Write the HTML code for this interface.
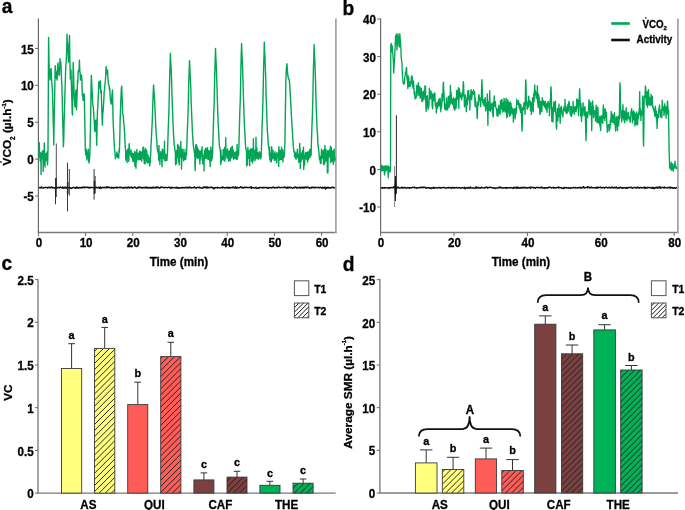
<!DOCTYPE html>
<html><head><meta charset="utf-8"><style>
html,body{margin:0;padding:0;background:#fff;}
body{width:685px;height:510px;overflow:hidden;}
svg{display:block;will-change:transform;font-family:"Liberation Sans",sans-serif;}
text{stroke:#000;stroke-width:0.3px;}
</style></head><body>
<svg width="685" height="510" viewBox="0 0 685 510">
<defs>
<pattern id="hatch" patternUnits="userSpaceOnUse" width="4.243" height="4.243" patternTransform="rotate(45)">
<line x1="2.1" y1="-1" x2="2.1" y2="6" stroke="#1a1a1a" stroke-width="1.05"/></pattern>
<pattern id="hatchL" patternUnits="userSpaceOnUse" width="3.18" height="3.18" patternTransform="rotate(45)">
<rect x="0" y="0" width="3.18" height="3.18" fill="#fff"/><line x1="3.0" y1="-1" x2="3.0" y2="5" stroke="#111" stroke-width="1.05"/></pattern>
</defs>
<text transform="translate(1.8 13.4) scale(0.985 1.06)" text-anchor="start" font-size="19.5" font-weight="bold" >a</text>
<path d="M38.4 18.6V232.5" fill="none" stroke="#6b6b6b" stroke-width="1.2"/>
<path d="M37.8 232.5H336.6" fill="none" stroke="#7a7a7a" stroke-width="1.35"/>
<path d="M335.9 18.6V233.1" fill="none" stroke="#a6a6a6" stroke-width="1.8"/>
<path d="M35 48.4H38.4" stroke="#6b6b6b" stroke-width="1"/>
<text transform="translate(33.8 53.5) scale(0.985 1.06)" text-anchor="end" font-size="11.8" font-weight="bold" >15</text>
<path d="M35 85.3H38.4" stroke="#6b6b6b" stroke-width="1"/>
<text transform="translate(33.8 90.4) scale(0.985 1.06)" text-anchor="end" font-size="11.8" font-weight="bold" >10</text>
<path d="M35 122.2H38.4" stroke="#6b6b6b" stroke-width="1"/>
<text transform="translate(33.8 127.3) scale(0.985 1.06)" text-anchor="end" font-size="11.8" font-weight="bold" >5</text>
<path d="M35 159.1H38.4" stroke="#6b6b6b" stroke-width="1"/>
<text transform="translate(33.8 164.2) scale(0.985 1.06)" text-anchor="end" font-size="11.8" font-weight="bold" >0</text>
<path d="M35 196H38.4" stroke="#6b6b6b" stroke-width="1"/>
<text transform="translate(33.8 201.1) scale(0.985 1.06)" text-anchor="end" font-size="11.8" font-weight="bold" >-5</text>
<path d="M38.4 232.5V236" stroke="#6b6b6b" stroke-width="1"/>
<text transform="translate(38.9 247.2) scale(0.985 1.06)" text-anchor="middle" font-size="11.8" font-weight="bold" >0</text>
<path d="M85.6 232.5V236" stroke="#6b6b6b" stroke-width="1"/>
<text transform="translate(86.1 247.2) scale(0.985 1.06)" text-anchor="middle" font-size="11.8" font-weight="bold" >10</text>
<path d="M132.8 232.5V236" stroke="#6b6b6b" stroke-width="1"/>
<text transform="translate(133.3 247.2) scale(0.985 1.06)" text-anchor="middle" font-size="11.8" font-weight="bold" >20</text>
<path d="M180 232.5V236" stroke="#6b6b6b" stroke-width="1"/>
<text transform="translate(180.5 247.2) scale(0.985 1.06)" text-anchor="middle" font-size="11.8" font-weight="bold" >30</text>
<path d="M227.2 232.5V236" stroke="#6b6b6b" stroke-width="1"/>
<text transform="translate(227.7 247.2) scale(0.985 1.06)" text-anchor="middle" font-size="11.8" font-weight="bold" >40</text>
<path d="M274.4 232.5V236" stroke="#6b6b6b" stroke-width="1"/>
<text transform="translate(274.9 247.2) scale(0.985 1.06)" text-anchor="middle" font-size="11.8" font-weight="bold" >50</text>
<path d="M321.6 232.5V236" stroke="#6b6b6b" stroke-width="1"/>
<text transform="translate(322.1 247.2) scale(0.985 1.06)" text-anchor="middle" font-size="11.8" font-weight="bold" >60</text>
<text transform="translate(178.9 266.3) scale(0.985 1.06)" text-anchor="middle" font-size="11.8" font-weight="bold" >Time (min)</text>
<text transform="translate(11.4,132.4) rotate(-90)" text-anchor="middle" font-size="11.8" font-weight="bold">VCO<tspan font-size="6.3" dy="3.3">2</tspan><tspan dy="-3.3"> (&#181;l.h</tspan><tspan font-size="6" dy="-5.5">-1</tspan><tspan dy="5.5">)</tspan></text>
<circle cx="0.9" cy="161.9" r="0.85" fill="#111"/>
<polyline fill="none" stroke="#00a655" stroke-width="1.4" stroke-linejoin="round" points="38.9,156.6 39.1,157.2 39.3,142.6 39.4,150.3 39.6,153.1 39.8,152.4 40,154.4 40.2,161.1 40.3,156.4 40.5,156.2 40.7,152.9 40.9,157.1 41.1,174.5 41.2,154.1 41.4,154.8 41.6,157.4 41.8,153.1 42,157.7 42.1,158.7 42.3,151.4 42.5,157.8 42.7,154.6 42.9,153.3 43,150.4 43.2,171.5 43.4,154.3 43.6,154.5 43.8,162.5 43.9,156.1 44.1,164.3 44.3,143 44.5,154.3 44.7,159.1 44.8,160.7 45,167 45.2,156 45.4,156.1 45.6,161.3 45.7,154.8 45.9,153.5 46.1,160.2 46.3,155.1 46.5,157.4 46.6,153.2 46.8,156.8 47,157 47.2,152 47.4,158.5 47.5,164.7 47.7,161.1 47.9,153.2 48,150 48.3,98.3 48.6,37.5 48.9,57.2 49.2,71 49.6,69.4 50,80 50.4,75.4 50.7,71 51.1,68.4 51.5,78.3 52,85 52.5,93 52.8,102.8 53.1,118.1 53.5,129.5 53.8,145 54.1,122.3 54.5,106.5 54.9,80.9 55.2,65.7 55.6,72.5 56,78 56.5,72 57,80 57.3,76.3 57.7,64.6 58,63 58.3,70 58.7,72 59,75 59.3,75.4 59.7,68.6 60,58.6 60.4,65.1 60.7,61.6 61.1,66.7 61.5,78 62,90 62.4,105.5 62.7,121.9 63,129.7 63.4,146.7 63.8,138.7 64.1,121.8 64.5,110 64.9,94.4 65.2,85.1 65.6,71 65.9,65.3 66.3,60 66.7,49.6 67,34.1 67.3,42 67.7,44.3 68,52 68.5,62 69,48 69.5,35.5 69.9,60 70.3,79 70.7,78.3 71,70 71.5,90 71.8,98 72.2,112.8 72.5,115 72.8,88.8 73.2,62.4 73.6,74 74,90 74.3,99 74.7,102.1 75,107 75.3,100.1 75.7,92.3 76,90 76.5,109.6 76.8,102.6 77.2,91.7 77.5,80 77.8,82.9 78.2,71 78.5,72 78.8,69.7 79.1,69.9 79.4,60.2 79.8,70.3 80.1,72.8 80.5,80 80.8,75.3 81.2,76.6 81.5,75 81.8,78.3 82.1,88.8 82.4,95.9 82.7,93 83.1,100.2 83.5,100 83.8,97.6 84.2,94 84.8,120 85.3,150 85.8,155 86,150 86.3,149.3 86.7,157.5 87,160 87.3,154.5 87.7,152.2 88,152 88.3,149.2 88.7,160.4 89,163 89.3,160.6 89.7,157.3 90,150 90.3,136.3 90.7,113.4 91,93.9 91.3,75.4 91.6,80.3 91.9,87.7 92.2,92.3 92.5,100 92.8,105.2 93.2,106.5 93.5,110 93.8,115.7 94.2,120 94.5,126.5 94.8,131 95.1,131.5 95.4,125.7 95.7,120.3 96,120 96.3,127.5 96.7,145.3 97.1,126.2 97.5,110 97.8,107.2 98.2,97.6 98.5,92.2 98.8,81.8 99.2,82.4 99.5,88 99.8,85.6 100.2,80.6 100.5,82.4 100.8,93 101.2,90.1 101.5,100 101.8,109.5 102.1,118 102.4,125.3 102.8,112.9 103.1,111.4 103.5,105 103.8,100.6 104.2,91.2 104.5,90 104.8,86.9 105.2,81.8 105.5,80 106.1,66.5 106.4,71.7 106.8,72 107.2,74 107.5,70 107.8,75.7 108.2,80.7 108.5,85 108.8,85.2 109.2,85.2 109.5,90 109.8,88.5 110.2,97.2 110.5,100 110.9,102.7 111.3,104 111.7,98.9 112,95 112.5,90 113,117 113.3,125 113.7,133.1 114,140 114.4,148 114.8,151 115.1,153.8 115.4,158.8 115.7,155 116,155 116.3,156.3 116.7,154 117,152 117.3,157.3 117.7,154.4 118.1,157.2 118.4,158 118.7,158.1 119.1,148.9 119.4,152 119.8,137.7 120.1,121.9 120.5,110 120.9,99.4 121.3,89 121.7,86.3 122,95 122.3,100.8 122.7,114 123,115 123.3,115.6 123.7,123.1 124,125 124.3,128.8 124.6,132.2 124.9,140 125.3,146.9 125.7,152 125.7,159.3 125.9,154.5 126.1,160.4 126.2,156.5 126.4,153.9 126.6,151.1 126.8,153.3 127,156.2 127.1,162.5 127.3,156.3 127.5,152.6 127.7,149.2 127.9,156.9 128,157.7 128.2,156.6 128.4,154.7 128.6,148.4 128.8,161.4 128.9,157.6 129.1,144.4 129.3,143.6 129.5,149.6 129.7,153.7 129.8,154.2 130,151.9 130.2,154.6 130.4,152.4 130.6,151.9 130.7,154.8 130.9,155.6 131.1,149.9 131.3,156.9 131.5,157.2 131.6,156 131.8,157.1 132,155.4 132.2,153 132.4,154.7 132.5,158.1 132.7,160.2 132.9,156.8 133.1,161.6 133.3,157.9 133.4,153.7 133.6,157.6 133.8,157.1 134,161 134.2,158 134.3,155 134.5,159.6 134.7,151.5 134.9,166.2 135.1,155.3 135.2,155.7 135.4,153.1 135.6,156.1 135.8,160.1 136,168.2 136.1,156.5 136.3,152 136.5,161.4 136.7,156.8 136.9,149.5 137,154 137.2,154 137.4,155.2 137.6,157.9 137.8,156.4 137.9,157.2 138.1,159.8 138.3,153.1 138.5,158.3 138.7,154.1 138.8,158.3 139,153.2 139.2,158.9 139.4,159.8 139.6,155.7 139.7,151.1 139.9,151.5 140.1,156.9 140.3,159.6 140.5,158.4 140.6,151.8 140.8,156 141,152.8 141.2,153.1 141.4,152.8 141.5,157.1 141.7,161.3 141.9,154.7 142.1,155.1 142.3,156.9 142.4,150.9 142.6,151.6 142.8,154.9 143,147.5 143.2,150.5 143.3,158 143.5,158.9 143.7,147.3 143.9,157.3 144.1,150.3 144.2,163.5 144.4,161.3 144.6,153.6 144.8,158 145,162.3 145.1,163.7 145.3,153.2 145.5,148.7 145.7,155.4 145.9,155 146,160.3 146.2,154.9 146.4,150.3 146.6,152.9 146.8,150.9 146.9,162.2 147.1,154.6 147.3,154.6 147.5,154.5 147.7,157.9 147.8,163 148,155.2 148.2,160 148.4,157.6 148.6,156.9 148.7,162.2 148.9,160.3 149.1,157.6 149.3,158.9 149.5,162.6 149.6,159.9 149.8,166 150,158.2 150.2,160.9 150.4,162.5 150.5,157.4 150.6,156 151,145.8 151.4,138.2 151.8,130.1 152.3,120.5 152.6,111.1 152.9,100.6 153.2,92.6 153.6,85 153.9,89.7 154.3,95.8 154.6,100.6 154.9,107.8 155.2,113.8 155.5,120.5 155.8,126.3 156.1,131.5 156.4,136.8 156.7,139.2 157.1,146.2 157.4,148.9 157.8,152 158.2,151.6 158.6,154.6 158.6,156.5 158.8,160.3 159,145.5 159.1,155.1 159.3,152.7 159.5,161.5 159.7,153.3 159.9,164.6 160,156.4 160.2,157.6 160.4,157.9 160.6,156.9 160.8,151.6 160.9,158 161.1,158.1 161.3,154.2 161.5,156.4 161.7,162 161.8,159.5 162,166.8 162.2,156.8 162.4,149.1 162.6,157.7 162.7,156.7 162.9,149.4 163.1,154.7 163.3,158.2 163.5,153.2 163.6,155.3 163.8,157.3 164,154.6 164.2,156 164.4,160.3 164.5,141.2 164.7,155.4 164.9,158 165.1,157 165.3,161.1 165.4,155.5 165.6,159.5 165.8,154.2 166,158 166.2,155.5 166.3,157.9 166.5,159.8 166.7,155.9 166.9,160.5 167.1,158.3 167.2,155.4 167.4,155 167.8,142 168.2,129.6 168.7,117.5 169.1,104.2 169.4,90.3 169.7,75.7 170.1,63.3 170.4,53.3 170.7,61.2 171.1,68.4 171.4,75.7 171.7,84.2 172,95.4 172.3,104.2 172.6,111.7 172.9,119.4 173.2,127.5 173.5,134.1 173.9,140.4 174.2,144.8 174.6,146.9 175,150.7 175.4,153 175.4,158.9 175.6,164.8 175.8,151.9 175.9,153.4 176.1,151.5 176.3,158.1 176.5,163.6 176.7,156.5 176.8,150.2 177,150.9 177.2,154.1 177.4,155.6 177.6,157.3 177.7,144.4 177.9,154.2 178.1,149.3 178.3,151 178.5,155 178.6,162 178.8,145.7 179,159 179.2,164.8 179.4,156.5 179.5,152.8 179.7,157.6 179.9,156.4 180.1,156.9 180.3,153.5 180.4,147.5 180.6,155.6 180.8,141.5 181,154.2 181.2,154.3 181.3,158.4 181.5,169 181.7,160.3 181.9,149.2 182.1,154.1 182.2,149.5 182.4,154 182.6,152.9 182.8,157.6 183,157.9 183.1,156.6 183.3,154.7 183.5,159.4 183.7,160.9 183.9,149.2 184,155.1 184.2,152.3 184.4,159.6 184.6,156.3 184.8,155.2 184.9,154.7 185.1,153.2 185.3,157.3 185.5,156.2 185.7,159.4 185.8,157.5 186,154.3 186.2,150.5 186.4,148.6 186.5,155 186.9,143.2 187.3,131.4 187.8,119.8 188.2,107.8 188.5,93.9 188.8,81.4 189.2,70.1 189.5,60.7 189.8,66.8 190.2,75.7 190.5,81.4 190.8,88 191.1,99.9 191.4,107.8 191.7,115 192,121.6 192.3,129.5 192.6,135.1 193,140.1 193.3,145.6 193.7,147.1 194.1,150.4 194.5,153.1 194.5,150.6 194.7,156.5 194.9,156.1 195,167 195.2,170.6 195.4,154.2 195.6,149.4 195.8,144.9 195.9,147.9 196.1,151.4 196.3,152.8 196.5,144.8 196.7,151.5 196.8,157.1 197,155.2 197.2,158.6 197.4,147.1 197.6,150 197.7,154.2 197.9,157 198.1,154.2 198.3,154.9 198.5,149.6 198.6,156.5 198.8,155.7 199,158.6 199.2,150.9 199.4,152.8 199.5,157.5 199.7,160.2 199.9,164.1 200.1,157.8 200.3,158.4 200.4,158.9 200.6,155.3 200.8,150.9 201,155.6 201.2,153.7 201.3,151.9 201.5,151 201.7,149.4 201.9,153 202.1,146.8 202.2,160.2 202.4,154.2 202.6,155.9 202.8,163.9 203,158.1 203.1,156.6 203.3,157.3 203.5,157.1 203.7,156.1 203.9,157.6 204,171 204.2,154 204.4,153.3 204.6,152.6 204.8,150 204.9,158.6 205.1,150 205.3,153 205.5,153.6 205.7,148.1 205.8,157.9 206,150.4 206.2,152.1 206.4,158.6 206.6,155.7 206.7,149 206.9,151 207.1,156.5 207.3,151 207.5,147.7 207.6,155.6 207.8,152 208,159.4 208.2,156.2 208.4,159.2 208.5,154.5 208.7,150.7 208.9,153.9 209.1,156.7 209.3,151 209.4,155.9 209.6,159.4 209.8,161.3 210,161.6 210.2,166.6 210.3,157.6 210.5,152 210.7,150.9 210.9,147.1 211.1,159.6 211.2,158.3 211.4,153.7 211.6,160.7 211.8,158.6 212,154.9 212.1,149.9 212.3,158.3 212.5,150.1 212.5,155 212.9,141.8 213.3,128.4 213.8,113.6 214.2,101.8 214.5,87 214.8,71.9 215.2,59.1 215.5,48.5 215.8,56.5 216.2,63.4 216.5,71.9 216.8,81.4 217.1,90.3 217.4,101.8 217.7,111.4 218,117.9 218.3,126.2 218.6,130.5 219,138.5 219.3,144.3 219.7,147.5 220.1,149.1 220.5,152.9 220.5,153 220.7,164.4 220.9,159.9 221,150.2 221.2,157.7 221.4,161.9 221.6,157.7 221.8,159.9 221.9,157.3 222.1,158.9 222.3,159.4 222.5,155.9 222.7,156.1 222.8,157.7 223,159.4 223.2,149.5 223.4,160 223.6,154.7 223.7,158.2 223.9,150.9 224.1,156.9 224.3,153.5 224.5,154.3 224.6,147.5 224.8,161.3 225,159.3 225.2,154.2 225.4,153.6 225.5,153.9 225.7,137.8 225.9,151.2 226.1,153 226.3,155.7 226.4,151.3 226.6,152.5 226.8,150.1 227,158.3 227.2,154.9 227.3,151.9 227.5,151.5 227.7,149 227.9,155.9 228.1,155.2 228.2,152.6 228.4,151.9 228.6,161.3 228.8,152.5 229,159.8 229.1,151.6 229.3,155.4 229.5,153.4 229.7,154.9 229.9,150.4 230,154.1 230.2,160.7 230.4,151 230.6,150.8 230.8,147.8 230.9,150.6 231.1,148.1 231.3,157.4 231.5,148.5 231.7,150.9 231.8,158 232,155.5 232.2,146.1 232.4,149 232.6,152.9 232.7,155 232.9,153.2 233.1,150 233.3,150.8 233.5,154.9 233.6,159.3 233.8,155.7 234,153.8 234.2,156.6 234.4,157.5 234.5,152.7 234.7,156.7 234.9,153.4 235.1,158.5 235.3,152.6 235.4,155.5 235.6,157.2 235.8,151.9 236,158.1 236.2,155.7 236.3,156.3 236.5,159.4 236.7,158.1 236.9,152.9 237.1,144.4 237.2,159.2 237.4,153 237.6,158.2 237.8,154.5 238,152.3 238.1,153.7 238.3,150.4 238.5,154.8 238.6,155 239,141.8 239.4,127.1 239.8,112.4 240.3,99.2 240.6,85.7 240.9,68 241.2,55.1 241.6,43.5 241.9,52.9 242.3,60.4 242.6,68 242.9,78 243.2,89.1 243.5,99.2 243.8,108.5 244.1,116.2 244.4,124.9 244.7,129.9 245.1,137 245.4,143.8 245.8,148.3 246.2,149.4 246.6,152.8 246.6,165.9 246.8,153.3 247,152.9 247.1,163 247.3,163.8 247.5,164.9 247.7,157.8 247.9,147.4 248,158.1 248.2,156.4 248.4,158.4 248.6,151.6 248.8,150.6 248.9,152 249.1,155.5 249.3,152.3 249.5,153 249.7,165.7 249.8,158.6 250,153.4 250.2,150.6 250.4,148.9 250.6,155.1 250.7,153.6 250.9,156.9 251.1,150.9 251.3,149.5 251.5,161.2 251.6,153.5 251.8,157.4 252,156.6 252.2,148.6 252.4,155.3 252.5,157.7 252.7,162.9 252.9,157.3 253.1,160.1 253.3,158.4 253.4,138.8 253.6,152.5 253.8,153.6 254,152.5 254.2,154.5 254.3,156.3 254.5,150.1 254.7,155.6 254.9,160.7 255.1,159.8 255.2,155 255.4,158.9 255.6,153.9 255.8,154 256,137.1 256.1,150.9 256.3,154.1 256.5,157.4 256.7,157.6 256.9,147.9 257,158.7 257.2,155.9 257.4,154.7 257.6,157.9 257.8,152.7 257.9,153.9 258.1,155.9 258.3,155.2 258.5,159.3 258.7,152.9 258.8,155 259,153.6 259.2,153.2 259.4,151.7 259.6,152.4 259.7,152.4 259.9,157.6 260.1,153.4 260.3,157.8 260.5,158.1 260.6,154.2 260.8,158.9 261,156.3 261.2,156.6 261.3,154 261.7,139.9 262.1,126.1 262.6,112.8 263,98.2 263.3,83.6 263.6,66.9 264,55.2 264.3,42.3 264.6,51.2 265,57.5 265.3,66.9 265.8,81.2 266.2,98.2 266.5,106.1 266.8,115.8 267.1,123.8 267.4,131.7 267.8,135.3 268.1,142.8 268.5,146.1 268.9,147.9 269.3,151.8 269.3,155.2 269.5,147.2 269.7,155.6 269.8,159.8 270,156.2 270.2,153 270.4,158.1 270.6,161.4 270.7,154.6 270.9,154 271.1,158.5 271.3,161.9 271.5,149 271.6,146.6 271.8,148.3 272,157 272.2,154.9 272.4,158.7 272.5,153 272.7,154.6 272.9,150.3 273.1,154.9 273.3,157.7 273.4,153.4 273.6,155.9 273.8,153.6 274,154.4 274.2,160.5 274.3,157.5 274.5,156.6 274.7,156.6 274.9,151.8 275.1,154.1 275.2,153.2 275.4,154.1 275.6,160 275.8,154.7 276,158.1 276.1,159 276.3,156.4 276.5,157.7 276.7,162.8 276.9,152.5 277,154.1 277.2,155.2 277.4,155.7 277.6,154.2 277.8,157.3 277.9,154.5 278.1,154.2 278.3,153.8 278.5,155.8 278.7,166.4 278.8,146.8 279,147.8 279.2,153.2 279.4,156.6 279.6,150.3 279.7,160.1 279.9,153.8 280.1,155.7 280.3,156.2 280.5,153.6 280.6,150.6 280.8,153.8 281,159.6 281.2,158.6 281.4,154.7 281.5,147.2 281.7,157.4 281.9,159.5 282.1,156.4 282.3,154.4 282.4,156.4 282.6,153.6 282.8,149.7 283,161.9 283.2,153.7 283.3,155.2 283.5,154.9 283.7,152.9 283.9,152.7 284.1,157.1 284.2,156.6 284.3,155.5 284.9,143 285.4,110 285.9,80 286.4,68 286.9,63.8 287.4,70 287.9,76 288.2,77.1 288.6,79 289,79.2 289.4,81 289.8,86.3 290.1,92 290.5,98.1 290.8,104 291.2,111.5 291.7,121 292,125.8 292.4,130.9 292.7,137.4 293,141.2 293.4,146.7 293.7,150 294.1,152 294.5,153 294.5,156.6 294.7,153.4 294.9,152.6 295,152 295.2,152.9 295.4,157.6 295.6,158.3 295.8,158.5 295.9,154.7 296.1,159.3 296.3,153.6 296.5,157.8 296.7,152.8 296.8,154.4 297,155.3 297.2,152.1 297.4,149.3 297.6,156.8 297.7,153.5 297.9,157.8 298.1,154.1 298.3,157 298.5,157.3 298.6,156.7 298.8,162.4 299,155.2 299.2,159.1 299.4,153.8 299.5,151.7 299.7,143.5 299.9,149.7 300.1,149 300.3,168.5 300.4,157.6 300.6,157.9 300.8,161.2 301,159 301.2,161.2 301.3,154.6 301.5,157.9 301.7,152.9 301.9,159.3 302.1,156.4 302.2,157.1 302.4,158.5 302.6,150.8 302.8,152.3 303,156.9 303.1,156.2 303.3,155.7 303.5,147.2 303.7,169.4 303.9,165 304,159.3 304.2,160.7 304.4,158.4 304.6,165.1 304.8,156.8 304.9,155.5 305.1,156.9 305.3,153.2 305.5,154.8 305.7,152.3 305.8,158 306,152.4 306.2,159 306.4,155.3 306.6,153.4 306.7,152.9 306.9,158.1 307.1,159.7 307.3,152.7 307.5,157.4 307.6,162.1 307.8,152 308,154.8 308.2,157.7 308.4,159.8 308.5,158.8 308.7,155.6 308.9,157.8 309.1,151.2 309.3,154.3 309.4,152.4 309.6,153.1 309.8,149.5 310,157.6 310.2,149.1 310.3,149.5 310.5,154.5 310.7,149.1 310.9,149.8 311.1,154.6 311.1,155.5 311.5,140.5 311.9,127.8 312.4,114.4 312.8,100.2 313.1,85.7 313.4,69.2 313.8,57.8 314.1,44.8 314.4,53.5 314.8,60.3 315.1,69.2 315.6,84 316,100.2 316.3,108.9 316.6,117.2 316.9,125.6 317.2,131.1 317.6,135.8 317.9,144.4 318.3,146.9 318.7,150.5 319.1,153.3 319.1,155.1 319.3,156.6 319.5,159.9 319.6,158.2 319.8,157.2 320,157.8 320.2,158.5 320.4,163.5 320.5,159.5 320.7,156.3 320.9,157.4 321.1,163.3 321.3,155.1 321.4,151.5 321.6,149.1 321.8,156.9 322,157.8 322.2,158.2 322.3,152.3 322.5,157.4 322.7,153.5 322.9,154.7 323.1,150.8 323.2,153.9 323.4,160.2 323.6,164.7 323.8,154.8 324,160.6 324.1,155.8 324.3,149.1 324.5,160.7 324.7,163.8 324.9,145.5 325,154.5 325.2,151.1 325.4,152.5 325.6,156.4 325.8,149.2 325.9,161 326.1,150.8 326.3,159.2 326.5,160.7 326.7,158.8 326.8,157.2 327,155.9 327.2,154.4 327.4,172.8 327.6,158.1 327.7,150.6 327.9,173 328.1,158 328.3,156.6 328.5,156 328.6,157.8 328.8,156 329,153.8 329.2,150.1 329.4,153.1 329.5,152.8 329.7,153.4 329.9,153.5 330.1,149.5 330.3,157.4 330.4,146.3 330.6,147.2 330.8,162.5 331,159.4 331.2,147.2 331.3,148 331.5,161.3 331.7,159.2 331.9,158.3 332.1,154.8 332.2,160.5 332.4,161 332.6,151 332.8,152.4 333,160.7 333.1,158.1 333.3,164.2 333.5,151.1 333.7,162.4 333.9,150 334,159.2 334.2,149 334.4,160.3 334.6,158 334.8,160.6 334.9,157.5 335.1,159.9" />
<polyline fill="none" stroke="#111" stroke-width="1.45" stroke-linejoin="round" points="38.9,187.8 39.4,187.5 39.9,187.9 40.4,188 40.9,187.6 41.4,186.8 41.9,187.8 42.4,187.9 42.9,188.1 43.4,188 43.9,187.5 44.4,187.6 44.9,187.7 45.4,187.3 45.9,187.6 46.4,187.6 46.9,187.5 47.4,187.9 47.9,187.4 48.4,187.2 48.9,187.8 49.4,187.3 49.9,187.6 50.4,187.9 50.9,187.2 51.4,187.6 51.9,187 52.4,187.9 52.9,187.6 53.4,187.7 53.9,187.6 54.4,188.1 54.9,187.9 55.4,187.7 55.9,188.3 56.4,187 56.9,188.2 57.4,187.7 57.9,187.5 58.4,187.6 58.9,187.4 59.4,188 59.9,187.2 60.4,186.9 60.9,187.5 61.4,187.7 61.9,187.8 62.4,187.1 62.9,188.2 63.4,187.4 63.9,188.3 64.4,187.5 64.9,187.6 65.4,187 65.9,188.3 66.4,188 66.9,187.5 67.4,187.8 67.9,187.5 68.4,187.4 68.9,187.8 69.4,187.7 69.9,188.1 70.4,187.7 70.9,188.3 71.4,188.4 71.9,187.9 72.4,188 72.9,187.6 73.4,187.2 73.9,187.6 74.4,187.8 74.9,187.6 75.4,188.2 75.9,187.7 76.4,187.1 76.9,188.2 77.4,187.3 77.9,188.1 78.4,188 78.9,187.5 79.4,187.9 79.9,187.6 80.4,187.4 80.9,187.9 81.4,187.4 81.9,187.5 82.4,187.9 82.9,187.1 83.4,187.3 83.9,187 84.4,187.8 84.9,187.2 85.4,187.6 85.9,187.3 86.4,187.3 86.9,187.2 87.4,187.6 87.9,187.2 88.4,187.9 88.9,187.8 89.4,187.2 89.9,187.9 90.4,187.5 90.9,187.5 91.4,187.4 91.9,187.6 92.4,187.6 92.9,187.4 93.4,187.6 93.9,188 94.4,187.4 94.9,187.5 95.4,187.9 95.9,187.1 96.4,187.6 96.9,187.5 97.4,188 97.9,187.7 98.4,187.2 98.9,187.7 99.4,188.3 99.9,186.9 100.4,187.2 100.9,188.5 101.4,187.9 101.9,187.8 102.4,187.2 102.9,187.6 103.4,187.5 103.9,187.8 104.4,187.3 104.9,187.6 105.4,187.5 105.9,187.9 106.4,187.5 106.9,186.7 107.4,187.4 107.9,187.3 108.4,187.8 108.9,187.1 109.4,187.4 109.9,187.7 110.4,187.6 110.9,187.7 111.4,188.1 111.9,187.2 112.4,187.7 112.9,187.7 113.4,188.3 113.9,187.6 114.4,187.7 114.9,187.4 115.4,187.3 115.9,187.6 116.4,188 116.9,187.3 117.4,187.2 117.9,187.8 118.4,187.7 118.9,187.5 119.4,187.3 119.9,187.4 120.4,187.7 120.9,187.2 121.4,187.5 121.9,187.6 122.4,187.9 122.9,187.4 123.4,187.7 123.9,188.3 124.4,187.5 124.9,187.6 125.4,187.2 125.9,187.4 126.4,188.1 126.9,187.7 127.4,187.2 127.9,187.9 128.4,187.2 128.9,187.1 129.4,187.9 129.9,187.3 130.4,187.7 130.9,187.5 131.4,187.7 131.9,187.1 132.4,188.2 132.9,188 133.4,187.7 133.9,187.6 134.4,187.2 134.9,186.9 135.4,187.6 135.9,187.8 136.4,188.3 136.9,188.2 137.4,187.7 137.9,187.4 138.4,187.8 138.9,187 139.4,187.8 139.9,187.2 140.4,187.2 140.9,187.2 141.4,188 141.9,187.7 142.4,188.1 142.9,187.6 143.4,187.7 143.9,187.2 144.4,187.6 144.9,187.9 145.4,187.2 145.9,187.4 146.4,187.9 146.9,187.1 147.4,187.4 147.9,188 148.4,188.1 148.9,187.5 149.4,187.9 149.9,188 150.4,187.3 150.9,187.7 151.4,188.1 151.9,187.4 152.4,187.9 152.9,187.2 153.4,187.8 153.9,187.3 154.4,187.9 154.9,187.5 155.4,187.5 155.9,187.9 156.4,186.8 156.9,187.9 157.4,187.6 157.9,187 158.4,187.5 158.9,187.7 159.4,187.6 159.9,188.2 160.4,187.6 160.9,186.9 161.4,187.3 161.9,187.4 162.4,187.2 162.9,187.2 163.4,187.7 163.9,187.8 164.4,187.7 164.9,187.3 165.4,187.6 165.9,187.4 166.4,187.6 166.9,187.6 167.4,187.8 167.9,187.6 168.4,187.5 168.9,187.1 169.4,187.6 169.9,187.7 170.4,187.6 170.9,188.5 171.4,187.3 171.9,187.3 172.4,187.8 172.9,187.7 173.4,187.7 173.9,187.8 174.4,187.6 174.9,187.5 175.4,187.9 175.9,187.8 176.4,187.2 176.9,188 177.4,187.4 177.9,188.2 178.4,187.8 178.9,188.3 179.4,187.7 179.9,187.8 180.4,187.9 180.9,188 181.4,187.7 181.9,187.8 182.4,187.3 182.9,188 183.4,187.7 183.9,187.7 184.4,187.9 184.9,187.5 185.4,187.7 185.9,187.3 186.4,187.8 186.9,187.7 187.4,187.2 187.9,187.9 188.4,187.6 188.9,187.8 189.4,186.9 189.9,187.7 190.4,187.7 190.9,187.4 191.4,187.9 191.9,187.8 192.4,187.8 192.9,187.8 193.4,187.4 193.9,187.6 194.4,186.9 194.9,187.7 195.4,187.8 195.9,188.2 196.4,188.2 196.9,187.4 197.4,187.3 197.9,187.4 198.4,187.6 198.9,187.7 199.4,187.1 199.9,187.7 200.4,187.5 200.9,187.8 201.4,188.3 201.9,188.2 202.4,188 202.9,187.6 203.4,187.1 203.9,187.7 204.4,187.1 204.9,187.5 205.4,187.7 205.9,186.8 206.4,187.1 206.9,188.1 207.4,187 207.9,187.2 208.4,187.9 208.9,187.7 209.4,187.6 209.9,187.2 210.4,187.5 210.9,187.4 211.4,187.1 211.9,187.6 212.4,188.1 212.9,187.6 213.4,188 213.9,188.9 214.4,187.9 214.9,187.7 215.4,187.7 215.9,187.6 216.4,187.7 216.9,187.7 217.4,187.2 217.9,187.7 218.4,187.6 218.9,187.8 219.4,187.9 219.9,187.9 220.4,187.8 220.9,187.7 221.4,187.2 221.9,187.6 222.4,188.1 222.9,186.9 223.4,187.5 223.9,187.6 224.4,187.9 224.9,187.7 225.4,187.9 225.9,187.4 226.4,187.8 226.9,187.2 227.4,187.6 227.9,188.1 228.4,188.2 228.9,187.2 229.4,188 229.9,187.4 230.4,187.6 230.9,187.9 231.4,187.6 231.9,187.5 232.4,187.1 232.9,187.7 233.4,187.1 233.9,187.6 234.4,187.9 234.9,188.2 235.4,186.8 235.9,187.9 236.4,188.2 236.9,187.4 237.4,187.3 237.9,188 238.4,187.7 238.9,187.8 239.4,187.8 239.9,187.8 240.4,186.8 240.9,187.1 241.4,187.4 241.9,187.2 242.4,188 242.9,187.6 243.4,188.1 243.9,187.5 244.4,187.3 244.9,187.3 245.4,187.8 245.9,187.4 246.4,187.2 246.9,187.3 247.4,187.7 247.9,187.6 248.4,187.5 248.9,187.6 249.4,187.5 249.9,187.5 250.4,187.4 250.9,186.7 251.4,188.4 251.9,187.4 252.4,187.4 252.9,187.6 253.4,187.7 253.9,187.8 254.4,188 254.9,187.9 255.4,187.9 255.9,187.2 256.4,188 256.9,188.4 257.4,188 257.9,188.1 258.4,187.8 258.9,188.3 259.4,187.5 259.9,187.5 260.4,187.7 260.9,187.4 261.4,187.5 261.9,187.6 262.4,188.1 262.9,187.9 263.4,187.3 263.9,187.8 264.4,187.7 264.9,187.5 265.4,187.5 265.9,187.3 266.4,187.6 266.9,188.1 267.4,187.7 267.9,188.3 268.4,188.3 268.9,187.5 269.4,187.6 269.9,187.5 270.4,187.9 270.9,187.7 271.4,187.9 271.9,187.4 272.4,187.3 272.9,187.7 273.4,187.1 273.9,187.5 274.4,187.4 274.9,187.9 275.4,187.7 275.9,187.9 276.4,187.6 276.9,187.2 277.4,187.9 277.9,187.3 278.4,187.3 278.9,187.3 279.4,187.7 279.9,187.5 280.4,187.6 280.9,187.7 281.4,187.4 281.9,187.6 282.4,187.6 282.9,187.5 283.4,187.6 283.9,187.6 284.4,186.9 284.9,187.5 285.4,187.6 285.9,187.2 286.4,187.6 286.9,188.4 287.4,187.6 287.9,187 288.4,188 288.9,187.5 289.4,187.5 289.9,187.1 290.4,187.8 290.9,187.5 291.4,187.7 291.9,188 292.4,188.1 292.9,188.2 293.4,187.6 293.9,187.4 294.4,187.8 294.9,187 295.4,187.5 295.9,187.1 296.4,187.3 296.9,188.2 297.4,187.4 297.9,187.9 298.4,187.8 298.9,187.8 299.4,187.2 299.9,187.2 300.4,188.2 300.9,187.4 301.4,187.7 301.9,187.1 302.4,187.1 302.9,188.1 303.4,187.3 303.9,188.1 304.4,187.9 304.9,187 305.4,187.5 305.9,187.1 306.4,187.8 306.9,187.2 307.4,187.6 307.9,187 308.4,187.4 308.9,187.8 309.4,188.2 309.9,187.8 310.4,188.1 310.9,187.9 311.4,187.2 311.9,188 312.4,187.3 312.9,187.2 313.4,187.6 313.9,187.3 314.4,187.9 314.9,187.8 315.4,187.2 315.9,187.5 316.4,187.6 316.9,187.8 317.4,187.4 317.9,187.4 318.4,187.3 318.9,187.4 319.4,187.9 319.9,187.7 320.4,187.3 320.9,187.6 321.4,187.7 321.9,188.2 322.4,187.2 322.9,187.9 323.4,187.5 323.9,187.9 324.4,187.2 324.9,187.5 325.4,189 325.9,187.2 326.4,187.8 326.9,188.2 327.4,187.8 327.9,187.3 328.4,188 328.9,187.6 329.4,187.9 329.9,187.5 330.4,187.9 330.9,187.9 331.4,187.4 331.9,187.4 332.4,187.1 332.9,187.5 333.4,187.3 333.9,188.1 334.4,187.7 334.9,188.1" />
<path d="M56.3 143.5V187.6" stroke="#222" stroke-width="0.8"/>
<path d="M55.5 187.6V204.3" stroke="#222" stroke-width="0.9"/>
<path d="M55.9 178V197" stroke="#222" stroke-width="1.6"/>
<path d="M67.5 162.7V211.4" stroke="#222" stroke-width="0.9"/>
<path d="M69.3 169V195.7" stroke="#222" stroke-width="0.9"/>
<path d="M67.7 182V194" stroke="#222" stroke-width="1.6"/>
<path d="M94.1 169V199.6" stroke="#222" stroke-width="0.9"/>
<path d="M95.1 176V193" stroke="#222" stroke-width="0.9"/>
<path d="M94.5 181V194" stroke="#222" stroke-width="1.5"/>
<text transform="translate(342.6 15.1) scale(0.985 1.06)" text-anchor="start" font-size="19.5" font-weight="bold" >b</text>
<path d="M380.6 18.4V232.5" fill="none" stroke="#6b6b6b" stroke-width="1.2"/>
<path d="M380.0 232.5H678.8" fill="none" stroke="#7a7a7a" stroke-width="1.35"/>
<path d="M677.9 18.4V233.1" fill="none" stroke="#a6a6a6" stroke-width="1.8"/>
<path d="M377.2 19H380.6" stroke="#6b6b6b" stroke-width="1"/>
<text transform="translate(376 24.1) scale(0.985 1.06)" text-anchor="end" font-size="11.8" font-weight="bold" >40</text>
<path d="M377.2 56.6H380.6" stroke="#6b6b6b" stroke-width="1"/>
<text transform="translate(376 61.7) scale(0.985 1.06)" text-anchor="end" font-size="11.8" font-weight="bold" >30</text>
<path d="M377.2 94.2H380.6" stroke="#6b6b6b" stroke-width="1"/>
<text transform="translate(376 99.3) scale(0.985 1.06)" text-anchor="end" font-size="11.8" font-weight="bold" >20</text>
<path d="M377.2 131.8H380.6" stroke="#6b6b6b" stroke-width="1"/>
<text transform="translate(376 136.9) scale(0.985 1.06)" text-anchor="end" font-size="11.8" font-weight="bold" >10</text>
<path d="M377.2 169.4H380.6" stroke="#6b6b6b" stroke-width="1"/>
<text transform="translate(376 174.5) scale(0.985 1.06)" text-anchor="end" font-size="11.8" font-weight="bold" >0</text>
<path d="M377.2 207H380.6" stroke="#6b6b6b" stroke-width="1"/>
<text transform="translate(376 212.1) scale(0.985 1.06)" text-anchor="end" font-size="11.8" font-weight="bold" >-10</text>
<path d="M380.6 232.5V236" stroke="#6b6b6b" stroke-width="1"/>
<text transform="translate(381.1 247.2) scale(0.985 1.06)" text-anchor="middle" font-size="11.8" font-weight="bold" >0</text>
<path d="M454 232.5V236" stroke="#6b6b6b" stroke-width="1"/>
<text transform="translate(454.5 247.2) scale(0.985 1.06)" text-anchor="middle" font-size="11.8" font-weight="bold" >20</text>
<path d="M527.4 232.5V236" stroke="#6b6b6b" stroke-width="1"/>
<text transform="translate(527.9 247.2) scale(0.985 1.06)" text-anchor="middle" font-size="11.8" font-weight="bold" >40</text>
<path d="M600.8 232.5V236" stroke="#6b6b6b" stroke-width="1"/>
<text transform="translate(601.3 247.2) scale(0.985 1.06)" text-anchor="middle" font-size="11.8" font-weight="bold" >60</text>
<path d="M674.2 232.5V236" stroke="#6b6b6b" stroke-width="1"/>
<text transform="translate(674.7 247.2) scale(0.985 1.06)" text-anchor="middle" font-size="11.8" font-weight="bold" >80</text>
<text transform="translate(520.9 266.3) scale(0.985 1.06)" text-anchor="middle" font-size="11.8" font-weight="bold" >Time (min)</text>
<path d="M611.2 23.5H629.8" stroke="#00a655" stroke-width="2.6"/>
<path d="M611.2 40H629.8" stroke="#111" stroke-width="2.6"/>
<text transform="translate(642.5 27.7) scale(0.975 1)" font-size="10" font-weight="bold">VCO<tspan font-size="6" dy="2.2">2</tspan></text>
<circle cx="645.8" cy="17.9" r="0.8" fill="#111"/>
<text transform="translate(636.6 42.6) scale(0.985 1.06)" text-anchor="start" font-size="10" font-weight="bold" >Activity</text>
<polyline fill="none" stroke="#00a655" stroke-width="1.35" stroke-linejoin="round" points="381,169.8 381.3,170.9 381.6,165.2 381.9,168 382.2,170.6 382.5,166.1 382.8,168.2 383.1,168.3 383.4,170.5 383.7,166.5 384,166.1 384.3,172.1 384.6,175 384.9,166.2 385.2,171.9 385.5,168.6 385.8,166 386.1,167.9 386.4,169.9 386.7,170.6 387,165.8 387.3,166.9 387.6,166.5 387.9,167.8 388.2,177.8 388.5,166.2 388.8,172.8 389.1,171.9 389.4,167.4 389.7,171.2 390,168.8 390.3,171.6 390.5,168 390.8,45 391.1,46.4 391.3,43.5 391.6,46.5 391.8,52 392.1,48.7 392.3,46 392.6,51.8 392.8,54 393.1,57.5 393.3,60 393.7,73 394,67.6 394.2,64.2 394.5,60 394.9,52.1 395.2,45 395.6,36 395.9,40.2 396.1,44 396.5,34 396.8,42.7 397,50 397.3,40 397.7,46 398,34 398.2,38.4 398.5,42 398.8,38.4 399,37 399.4,47 399.8,33.7 400.1,37.9 400.5,42 400.8,47 401,50.3 401.2,58.1 401.5,59.2 401.8,62.6 402,63.4 402.3,72 402.6,78 402.8,78.3 403.1,82.7 403.4,83.9 403.7,83.2 404,84 404.3,83.9 404.6,80 404.9,76.4 405.2,75.8 405.5,72 405.8,74.1 406.1,71.2 406.3,67.5 406.6,68 406.9,77.4 407.2,80 407.5,81.2 407.8,88.6 408.1,75.4 408.4,86.8 408.7,77.4 409,81.3 409.3,83.1 409.6,86.5 409.9,84.9 410.2,82 410.5,86.1 410.8,83.5 411.1,83.2 411.4,76.1 411.7,78.1 412,76 412.3,78.3 412.6,86.2 412.9,86.7 413.2,88.3 413.5,81 413.8,86.4 414.1,92.5 414.4,94.9 414.7,91.7 415,98.9 415.3,97.2 415.6,98.6 415.9,98.2 416.2,97.2 416.5,91.6 416.8,85.1 417.1,91 417.4,92.4 417.7,87.8 418,95.7 418.3,82.6 418.6,86.8 418.9,86.7 419.2,89.2 419.5,95.1 419.8,86.7 420.1,98.2 420.4,96.6 420.7,91.3 421,89.8 421.3,88.3 421.6,97.1 421.9,101.4 422.2,93 422.5,101.5 422.8,99.3 423.1,91.2 423.4,91 423.7,93.1 424,99.5 424.3,93.2 424.6,96.3 424.9,85.8 425.2,91.5 425.5,86.3 425.8,104.4 426.1,111.3 426.4,109.5 426.7,101.3 427,96.3 427.3,95.7 427.6,103.2 427.9,106.6 428.2,109.2 428.5,100.9 428.8,107.2 429.1,102 429.4,88.2 429.7,94.7 430,99.4 430.3,91.5 430.6,98.2 430.9,91 431.2,97 431.5,92.8 431.8,93.4 432.1,104.9 432.4,107.6 432.7,108.7 433,97.6 433.3,93.9 433.6,95.8 433.9,96.1 434.2,100.7 434.5,94.7 434.8,92.8 435.1,100.4 435.4,105.3 435.7,106.5 436,103.7 436.3,112.9 436.6,102.9 436.9,104.4 437.2,105.8 437.5,108.2 437.8,102 438.1,102.9 438.4,105.8 438.7,100.3 439,99 439.3,105.9 439.6,101.1 439.9,99.7 440.2,98.4 440.5,106.5 440.8,111.8 441.1,102.7 441.4,107.8 441.7,106 442,93.9 442.3,98.6 442.6,101 442.9,95 443.2,84.5 443.5,82.2 443.8,91 444.1,94.5 444.4,103.4 444.7,108.6 445,109.3 445.3,104.4 445.6,106 445.9,110 446.2,107 446.5,97.9 446.8,108.3 447.1,109.9 447.4,104.2 447.7,109.5 448,104.8 448.3,96.3 448.6,105 448.9,101.2 449.2,107.2 449.5,95.9 449.8,98 450.1,104.5 450.4,85.3 450.7,103.2 451,92.2 451.3,94.9 451.6,99.5 451.9,103.1 452.2,99.8 452.5,99.6 452.8,104.7 453.1,102.4 453.4,97.7 453.7,107.4 454,104.8 454.3,110 454.6,99.3 454.9,109.9 455.2,98.5 455.5,103.6 455.8,104.9 456.1,108.2 456.4,101.2 456.7,90.4 457,95.4 457.3,99.6 457.6,91.9 457.9,96.9 458.2,90.8 458.5,87.6 458.8,108.5 459.1,94.3 459.4,88.8 459.7,93.5 460,96.2 460.3,97.3 460.6,94.5 460.9,92.9 461.2,95.3 461.5,99.8 461.8,98.1 462.1,95.7 462.4,96.6 462.7,94.1 463,90.6 463.3,81.6 463.6,83.9 463.9,94.7 464.2,97.9 464.5,106.9 464.8,101.5 465.1,96 465.4,94.9 465.7,105.6 466,97.2 466.3,111.7 466.6,107.1 466.9,104.8 467.2,100.3 467.5,104.3 467.8,90.8 468.1,94.6 468.4,92.3 468.7,90.5 469,100.1 469.3,96.6 469.6,96.1 469.9,110.1 470.2,96.9 470.5,97.5 470.8,94.1 471.1,89.6 471.4,90.9 471.7,99.8 472,94.2 472.3,92.3 472.6,91.8 472.9,94.2 473.2,93.9 473.5,89.6 473.8,93 474.1,91.3 474.4,94.4 474.7,91.9 475,106.3 475.3,97.6 475.6,102.6 475.9,101.3 476.2,107.3 476.5,106.6 476.8,108.6 477.1,118.6 477.4,116 477.7,104 478,101.6 478.3,105.4 478.6,97.2 478.9,94.6 479.2,96.5 479.5,99.5 479.8,97.3 480.1,101.6 480.4,104.5 480.7,106.6 481,99.6 481.3,99.9 481.6,86.9 481.9,79.6 482.2,87 482.5,95.5 482.8,102.7 483.1,101.7 483.4,104.6 483.7,101.2 484,99.7 484.3,106.1 484.6,99.7 484.9,103.4 485.2,97.6 485.5,103 485.8,111.1 486.1,110.4 486.4,104 486.7,104.4 487,106.1 487.3,93.9 487.6,106.6 487.9,125.3 488.2,104.9 488.5,101.8 488.8,109.8 489.1,110.4 489.4,103.4 489.7,90.6 490,104.7 490.3,111.3 490.6,107.7 490.9,104.2 491.2,109 491.5,107.1 491.8,108 492.1,102.8 492.4,113.2 492.7,111.3 493,115.6 493.3,116.8 493.6,102.2 493.9,103.6 494.2,95.9 494.5,101.3 494.8,106.2 495.1,105 495.4,101.7 495.7,107 496,107.9 496.3,109 496.6,108.1 496.9,115.3 497.2,116 497.5,109.6 497.8,109.9 498.1,116 498.4,110.3 498.7,105.1 499,107 499.3,109.1 499.6,113.5 499.9,112.5 500.2,114 500.5,100.6 500.8,108.9 501.1,101.8 501.4,102.3 501.7,99.7 502,99.5 502.3,109.5 502.6,112.3 502.9,105.9 503.2,102.7 503.5,108.4 503.8,111 504.1,98.3 504.4,102.7 504.7,104.8 505,109.4 505.3,112.1 505.6,104 505.9,101 506.2,98.3 506.5,108.5 506.8,117.8 507.1,110.3 507.4,116.8 507.7,99.8 508,107.5 508.3,105.1 508.6,102.2 508.9,112.7 509.2,113.4 509.5,116.3 509.8,108.8 510.1,101.9 510.4,106.4 510.7,115.2 511,103.4 511.3,109.2 511.6,112.1 511.9,107.5 512.2,113.5 512.5,112.4 512.8,108.8 513.1,113.8 513.4,122.3 513.7,110 514,116 514.3,110.7 514.6,108.8 514.9,113.4 515.2,118.9 515.5,108.5 515.8,113.7 516.1,113.7 516.4,109.9 516.7,99.3 517,101.4 517.3,103.2 517.6,102.1 517.9,104.4 518.2,102.7 518.5,100.7 518.8,105.2 519.1,106.6 519.4,108.5 519.7,103.6 520,106.6 520.3,110.5 520.6,112.5 520.9,104.7 521.2,107.5 521.5,113.1 521.8,127.9 522.1,131.1 522.4,118.7 522.7,107.6 523,109.3 523.3,110 523.6,107.2 523.9,102.7 524.2,106.8 524.5,104.7 524.8,108.7 525.1,114.4 525.4,93.6 525.7,79.9 526,83.5 526.3,99.7 526.6,105 526.9,104.8 527.2,109.2 527.5,108.2 527.8,103.7 528.1,101.1 528.4,107.1 528.7,96.1 529,100.4 529.3,104 529.6,104.8 529.9,100.9 530.2,105 530.5,110.8 530.8,102.1 531.1,104 531.4,114.4 531.7,103 532,110.4 532.3,109.8 532.6,97.8 532.9,110.1 533.2,111.9 533.5,100.2 533.8,93.3 534.1,101.4 534.4,91.6 534.7,84.9 535,92.7 535.3,90.5 535.6,95.2 535.9,92.7 536.2,98.8 536.5,92.3 536.8,97.1 537.1,95.5 537.4,85.6 537.7,102.3 538,104.9 538.3,107.3 538.6,94.2 538.9,99.7 539.2,97.2 539.5,107.8 539.8,113 540.1,114.3 540.4,111.7 540.7,101.4 541,102.6 541.3,109 541.6,108.9 541.9,111.7 542.2,97.7 542.5,102 542.8,100.2 543.1,105.2 543.4,104.9 543.7,101 544,102.9 544.3,105.6 544.6,107.1 544.9,106.4 545.2,101.9 545.5,101.4 545.8,109.2 546.1,104.2 546.4,104.1 546.7,104.3 547,112.3 547.3,103.4 547.6,107.8 547.9,101.9 548.2,103.4 548.5,101.5 548.8,106 549.1,103.5 549.4,115.8 549.7,109 550,108.8 550.3,99.8 550.6,97.5 550.9,86.6 551.2,89.4 551.5,102.6 551.8,121.4 552.1,112.3 552.4,116.4 552.7,108 553,122 553.3,112.3 553.6,105.9 553.9,101.8 554.2,111.4 554.5,109.3 554.8,104.3 555.1,107.6 555.4,101.1 555.7,112.7 556,114.2 556.3,126.4 556.6,129.1 556.9,119 557.2,114.2 557.5,108.5 557.8,120.9 558.1,115.3 558.4,108.7 558.7,112.5 559,104.2 559.3,116.5 559.6,111.8 559.9,115.8 560.2,123.3 560.5,108.7 560.8,107.7 561.1,106.8 561.4,106.3 561.7,110.6 562,114.7 562.3,115.1 562.6,114.3 562.9,117 563.2,111.5 563.5,108.8 563.8,109.6 564.1,106.8 564.4,106.7 564.7,110.9 565,99.3 565.3,108.4 565.6,111.4 565.9,106.5 566.2,113.5 566.5,107.9 566.8,110.5 567.1,111.6 567.4,112.8 567.7,104.8 568,108.1 568.3,111.2 568.6,103.8 568.9,101.4 569.2,103.4 569.5,106.8 569.8,106.9 570.1,113.9 570.4,106.4 570.7,115.7 571,112.9 571.3,106.6 571.6,116.4 571.9,110.6 572.2,111.3 572.5,113.1 572.8,110.1 573.1,101.3 573.4,111 573.7,109.3 574,110.8 574.3,114.3 574.6,107 574.9,106.9 575.2,109.6 575.5,111.4 575.8,106.8 576.1,111.6 576.4,108.7 576.7,98.9 577,102 577.3,107.6 577.6,102.3 577.9,100 578.2,107.5 578.5,115.5 578.8,106.5 579.1,104.6 579.4,91.7 579.7,88.8 580,99.7 580.3,103.2 580.6,116 580.9,103.5 581.2,109.4 581.5,121.4 581.8,110.2 582.1,112.5 582.4,108.3 582.7,115.7 583,102.7 583.3,108.1 583.6,109 583.9,110.2 584.2,111.6 584.5,115.5 584.8,106.6 585.1,107.4 585.4,116.2 585.7,129.9 586,140.5 586.3,129.9 586.6,111.9 586.9,116.2 587.2,114.1 587.5,117.5 587.8,116.1 588.1,112.2 588.4,112.3 588.7,105.5 589,99.8 589.3,101.3 589.6,108.1 589.9,114.7 590.2,106.1 590.5,114.6 590.8,102.1 591.1,108.6 591.4,113.4 591.7,130.7 592,114.1 592.3,111.7 592.6,100.9 592.9,110.4 593.2,105.8 593.5,117.6 593.8,113.1 594.1,113.5 594.4,110.4 594.7,113.4 595,112.6 595.3,117 595.6,121.1 595.9,111.1 596.2,105.1 596.5,110.3 596.8,108.7 597.1,122.8 597.4,108.6 597.7,107.2 598,109.1 598.3,122.5 598.6,122.6 598.9,118.8 599.2,122.6 599.5,124.1 599.8,116.3 600.1,127 600.4,121.3 600.7,130.6 601,121.1 601.3,115.7 601.6,120.5 601.9,121.7 602.2,116.1 602.5,121 602.8,123.4 603.1,108.6 603.4,105 603.7,115.3 604,118.1 604.3,112.7 604.6,110 604.9,120.7 605.2,108.6 605.5,110.9 605.8,116.6 606.1,115.9 606.4,112.3 606.7,121.4 607,125.9 607.3,132.1 607.6,125.6 607.9,125.6 608.2,124.8 608.5,124.9 608.8,124.6 609.1,131.3 609.4,127.4 609.7,129.4 610,128 610.3,120.2 610.6,124.2 610.9,121.1 611.2,111.5 611.5,114.3 611.8,113.5 612.1,121.6 612.4,116.8 612.7,122.4 613,114.9 613.3,119.5 613.6,119.7 613.9,121.8 614.2,123.9 614.5,112.6 614.8,123.4 615.1,118 615.4,129.1 615.7,131 616,125.3 616.3,116.9 616.6,117.1 616.9,119.6 617.2,123.8 617.5,130.5 617.8,118.7 618.1,116.1 618.4,119.5 618.7,125.8 619,119.9 619.3,119.3 619.6,100.2 619.9,82.7 620.2,87.3 620.5,108.2 620.8,109.7 621.1,118.4 621.4,110.9 621.7,121.9 622,118.3 622.3,118 622.6,112.2 622.9,104.7 623.2,114 623.5,117.3 623.8,120.1 624.1,110.8 624.4,111.7 624.7,122.7 625,116.4 625.3,119.4 625.6,111.7 625.9,115.1 626.2,107.7 626.5,115.8 626.8,120.9 627.1,119.6 627.4,118.2 627.7,113 628,118.5 628.3,112.4 628.6,115.8 628.9,117.6 629.2,116.6 629.5,119.8 629.8,117.5 630.1,122.3 630.4,121.5 630.7,116.2 631,110.9 631.3,113.6 631.6,108.6 631.9,111.5 632.2,113.4 632.5,122.7 632.8,112.2 633.1,116.4 633.4,120.1 633.7,110.7 634,114.2 634.3,112.5 634.6,112.9 634.9,126 635.2,117.2 635.5,116.5 635.8,113.9 636.1,124.4 636.4,116 636.7,111.9 637,118.2 637.3,124.6 637.6,124.9 637.9,114.6 638.2,119 638.5,115.4 638.8,112.4 639.1,111 639.4,107 639.7,91.7 640,114.9 640.3,109 640.6,109 640.9,120.5 641.2,114 641.5,115.4 641.8,112 642.1,110.9 642.4,112.5 642.7,96 643,113.3 643.3,140.1 643.6,146 643.9,123.5 644.2,97.3 644.5,96.1 644.8,97.3 645.1,94.1 645.4,86 645.7,88.1 646,97.7 646.3,104.8 646.6,97.9 646.9,91.7 647.2,101.1 647.5,107.2 647.8,104.7 648.1,93.8 648.4,89.6 648.7,93.8 649,99.9 649.3,105 649.6,104.3 649.9,97.6 650.2,98.7 650.5,104.2 650.8,105.2 651.1,94.3 651.4,104.6 651.7,95.8 652,102.4 652.3,96.4 652.6,107.3 652.9,106 653.2,108.3 653.5,109.6 653.8,108.9 654.1,111.6 654.4,110.6 654.7,116 655,112.2 655.3,106.2 655.6,109 655.9,112.5 656.2,118.1 656.5,111.5 656.8,121.4 657.1,128.5 657.4,118.9 657.7,114.4 658,115.4 658.3,117.8 658.6,114.4 658.9,108.3 659.2,107.8 659.5,104.9 659.8,109.2 660.1,110 660.4,117 660.7,112.5 661,112.3 661.3,113.7 661.6,109.7 661.9,117.7 662.2,100.2 662.5,110.3 662.8,108.2 663.1,108.4 663.4,108.8 663.7,106.8 664,115.5 664.3,112.7 664.6,103.8 664.9,107.1 665.2,112.1 665.5,111.1 665.8,106.6 666.1,118.1 666.4,110.4 666.7,114.2 667,111.8 667.3,102.8 667.6,100.9 667.9,108.5 668.2,114.7 668.5,115.9 668.5,110 669.1,150 669.6,166 669.6,168 669.9,166.2 670.2,167.9 670.5,167 670.8,169.2 671.1,162.2 671.4,170.3 671.7,169.7 672,169.5 672.3,163.7 672.6,168.4 672.9,167.8 673.2,171.3 673.5,166.6 673.8,167.9 674.1,164.5 674.4,168.1 674.7,168.2 675,161.2 675.3,164.5 675.6,166.2 675.9,166.7 676.2,166.5 676.5,168.7 676.8,167.5" />
<polyline fill="none" stroke="#111" stroke-width="1.45" stroke-linejoin="round" points="381,188.2 381.5,187.9 382,187.7 382.5,188.2 383,187.6 383.5,187.8 384,187.9 384.5,187.4 385,188 385.5,187.9 386,187.8 386.5,187.9 387,187.9 387.5,187.8 388,187.6 388.5,188 389,188.4 389.5,187.6 390,187.9 390.5,187.6 391,187.8 391.5,187.5 392,187.7 392.5,187.7 393,187.8 393.5,186.7 394,187.6 394.5,187.4 395,187.3 395.5,187.3 396,187.6 396.5,188.2 397,187.9 397.5,187.2 398,187.7 398.5,187.3 399,187.9 399.5,188.1 400,187.9 400.5,187.9 401,187.7 401.5,187.8 402,187.1 402.5,188.1 403,187.7 403.5,187.9 404,187.4 404.5,187.4 405,187.5 405.5,187.8 406,188.2 406.5,187.9 407,188 407.5,187.6 408,188 408.5,187.9 409,187.6 409.5,188.2 410,187.5 410.5,187.8 411,188.1 411.5,187.6 412,187.6 412.5,187.3 413,187.3 413.5,187.5 414,187.5 414.5,187.1 415,187.8 415.5,187.7 416,187.8 416.5,188.3 417,187.8 417.5,187.9 418,187.6 418.5,187.6 419,187.8 419.5,187.5 420,187.8 420.5,187.3 421,187.3 421.5,187.7 422,187.4 422.5,187.2 423,187.7 423.5,187.5 424,187 424.5,187.3 425,187.3 425.5,188 426,188.2 426.5,188.1 427,187.6 427.5,187.8 428,187.5 428.5,187.9 429,187.7 429.5,187.8 430,188.5 430.5,188 431,187.8 431.5,188.4 432,188.4 432.5,187.8 433,188 433.5,187.3 434,188.2 434.5,188.2 435,187.5 435.5,187.6 436,187.7 436.5,187.8 437,188.1 437.5,188 438,187.6 438.5,187.4 439,187.8 439.5,187.5 440,188.1 440.5,187.8 441,187.9 441.5,187.6 442,187.9 442.5,187.6 443,187.4 443.5,187.6 444,187.4 444.5,187.8 445,187.9 445.5,187.9 446,188.3 446.5,188 447,187.7 447.5,187.8 448,187.7 448.5,187.4 449,188 449.5,187.6 450,187.4 450.5,187.7 451,187.6 451.5,188.4 452,188.1 452.5,187.4 453,187.5 453.5,187.9 454,187.4 454.5,188 455,187.8 455.5,187.8 456,187.6 456.5,187.4 457,187.8 457.5,188 458,187.8 458.5,187.5 459,187.9 459.5,187.7 460,188 460.5,187.8 461,188.2 461.5,187.6 462,187.6 462.5,187.4 463,188 463.5,187.8 464,188.1 464.5,187.3 465,188.7 465.5,187.9 466,188.2 466.5,187.9 467,187.5 467.5,188.2 468,188.1 468.5,187.4 469,188.1 469.5,188.1 470,187.4 470.5,187.1 471,188.1 471.5,188.1 472,188 472.5,188.1 473,187.7 473.5,188.1 474,188 474.5,188.3 475,188.1 475.5,188.1 476,186.8 476.5,188.1 477,187.5 477.5,187.7 478,188.1 478.5,187.3 479,187.8 479.5,188 480,188.2 480.5,188 481,187.5 481.5,187.2 482,187.8 482.5,187.7 483,187.9 483.5,188 484,187.8 484.5,187.6 485,188 485.5,187.7 486,187.1 486.5,187.3 487,187.1 487.5,188.2 488,187.9 488.5,187.5 489,187.6 489.5,187.6 490,187.1 490.5,187.3 491,187.4 491.5,187.7 492,187.9 492.5,187.7 493,188 493.5,188.2 494,187.9 494.5,187.8 495,188.1 495.5,188.6 496,187.8 496.5,188.1 497,188.1 497.5,187.9 498,187.9 498.5,187.3 499,187.7 499.5,187.7 500,187 500.5,187.7 501,187.3 501.5,187.8 502,188 502.5,187.8 503,188.1 503.5,188 504,187.7 504.5,187.6 505,187.6 505.5,187.9 506,187.4 506.5,188.4 507,187.9 507.5,187.7 508,187.8 508.5,187.7 509,188 509.5,187.8 510,187.8 510.5,187.8 511,187.5 511.5,187.8 512,187.9 512.5,188.1 513,188.4 513.5,187.3 514,187.8 514.5,188.1 515,187.3 515.5,187.7 516,188 516.5,187.1 517,188.4 517.5,187.7 518,187.1 518.5,188.1 519,188.1 519.5,188.2 520,187.5 520.5,187.7 521,188.2 521.5,187.5 522,187.5 522.5,187.9 523,187.3 523.5,187.5 524,188.1 524.5,187.4 525,187.7 525.5,187.4 526,187.4 526.5,188.2 527,188.1 527.5,188 528,187.4 528.5,187.8 529,187.6 529.5,187.5 530,187.1 530.5,188.4 531,187.9 531.5,187.3 532,187.3 532.5,187.4 533,187.7 533.5,187.5 534,188 534.5,187.6 535,187.9 535.5,188.2 536,187.5 536.5,187.5 537,187.5 537.5,187.4 538,187.7 538.5,187.4 539,187.5 539.5,187.8 540,187.9 540.5,187.4 541,187.6 541.5,186.9 542,188 542.5,188.1 543,187.8 543.5,188.1 544,187.8 544.5,187.8 545,188.4 545.5,187.7 546,187.7 546.5,187.7 547,187.8 547.5,188.2 548,187.8 548.5,187.4 549,187.1 549.5,187.4 550,187.3 550.5,187.5 551,187.8 551.5,187.9 552,187.7 552.5,187.6 553,187.3 553.5,187.9 554,187.5 554.5,188.1 555,187.8 555.5,187.7 556,187.7 556.5,187.9 557,187.5 557.5,187.6 558,187.5 558.5,186.9 559,188.1 559.5,187.6 560,187.5 560.5,187.7 561,187.8 561.5,187.7 562,188.3 562.5,188.3 563,188.3 563.5,188.6 564,187.4 564.5,187.9 565,187.5 565.5,187.7 566,187.8 566.5,187.5 567,187.8 567.5,187.9 568,188.2 568.5,187.6 569,187.8 569.5,188.2 570,188.4 570.5,187.9 571,187.6 571.5,188 572,188 572.5,188.1 573,187.7 573.5,187.3 574,187.5 574.5,187.8 575,187.9 575.5,187.5 576,187.6 576.5,187.9 577,188 577.5,187.8 578,187.7 578.5,187.8 579,187.6 579.5,187.8 580,187.2 580.5,188 581,187.5 581.5,188.1 582,187.4 582.5,187.4 583,187.5 583.5,186.7 584,187.8 584.5,188 585,187.5 585.5,187.4 586,187.5 586.5,187.5 587,187.3 587.5,187.8 588,186.6 588.5,187.5 589,187.3 589.5,187.9 590,187.3 590.5,187.8 591,187.5 591.5,187 592,187.8 592.5,187.7 593,187.8 593.5,187.7 594,187.6 594.5,187.8 595,187.5 595.5,187.9 596,187.6 596.5,188.1 597,187.2 597.5,188.1 598,187.3 598.5,187.4 599,187.7 599.5,187.5 600,187.5 600.5,187.1 601,187.7 601.5,187.5 602,187.8 602.5,187.6 603,187.7 603.5,187.5 604,187.5 604.5,188.2 605,187.8 605.5,187.4 606,187.2 606.5,187.5 607,187.5 607.5,187.9 608,188 608.5,187.5 609,187.5 609.5,187.2 610,187.7 610.5,187.6 611,188.1 611.5,187.5 612,187 612.5,187.7 613,187.5 613.5,187.9 614,187.5 614.5,187.5 615,187.9 615.5,187.3 616,187.8 616.5,187.1 617,187.7 617.5,188.2 618,188.1 618.5,187.7 619,187.4 619.5,188 620,187.8 620.5,187.2 621,187.7 621.5,187.9 622,187.7 622.5,188.2 623,187.5 623.5,188 624,187.9 624.5,187.5 625,187.9 625.5,188.3 626,187.9 626.5,187.5 627,188.2 627.5,188.3 628,187.7 628.5,187.5 629,187.6 629.5,187.2 630,187.6 630.5,187.5 631,187.7 631.5,187.3 632,187.9 632.5,188.2 633,188.1 633.5,187.8 634,187.5 634.5,187.4 635,187.5 635.5,187.5 636,188 636.5,188.2 637,187.8 637.5,187 638,187.6 638.5,187.7 639,187.4 639.5,188.2 640,187.8 640.5,187.7 641,187.4 641.5,187.5 642,188 642.5,187.9 643,187.6 643.5,187.8 644,187.4 644.5,187 645,188.4 645.5,187.9 646,187.5 646.5,188 647,188.1 647.5,187.4 648,187.3 648.5,187.5 649,187.8 649.5,187.6 650,187.5 650.5,187.5 651,187.8 651.5,188.3 652,187.4 652.5,187.4 653,188.5 653.5,187.5 654,187.7 654.5,188.6 655,187.6 655.5,187.5 656,187.8 656.5,187.3 657,187.9 657.5,188.2 658,187.1 658.5,187.7 659,187.7 659.5,186.8 660,188.1 660.5,187.1 661,188 661.5,187.8 662,187.6 662.5,187.3 663,187.4 663.5,187.5 664,188.1 664.5,187.1 665,187.5 665.5,187.7 666,187.7 666.5,187.9 667,188 667.5,187.9 668,187.5 668.5,187.3 669,187.6 669.5,187.5 670,188.3 670.5,187.1 671,187.1 671.5,187.7 672,187.7 672.5,187.6 673,188.2 673.5,187.7 674,188.2 674.5,187.7 675,188 675.5,188.2 676,188.1 676.5,187.6 677,187.4" />
<path d="M396.4 115.3V194" stroke="#111" stroke-width="0.9"/>
<path d="M394.6 166V207" stroke="#666" stroke-width="0.8"/>
<path d="M395.4 176V201" stroke="#111" stroke-width="1.0"/>
<path d="M395.4 176L396.5 187.5L395.4 199L394.3 187.5Z" fill="#111"/>
<text transform="translate(1.5 269.6) scale(0.985 1.06)" text-anchor="start" font-size="19.5" font-weight="bold" >c</text>
<path d="M38.0 279.2V493.1" fill="none" stroke="#6b6b6b" stroke-width="1.2"/>
<path d="M37.4 493.1H335.7" fill="none" stroke="#7a7a7a" stroke-width="1.35"/>
<path d="M35 279.6H38.0" stroke="#6b6b6b" stroke-width="1"/>
<text transform="translate(33.6 284.7) scale(0.985 1.06)" text-anchor="end" font-size="11.8" font-weight="bold" >2.5</text>
<path d="M35 322.3H38.0" stroke="#6b6b6b" stroke-width="1"/>
<text transform="translate(33.6 327.4) scale(0.985 1.06)" text-anchor="end" font-size="11.8" font-weight="bold" >2</text>
<path d="M35 365H38.0" stroke="#6b6b6b" stroke-width="1"/>
<text transform="translate(33.6 370.1) scale(0.985 1.06)" text-anchor="end" font-size="11.8" font-weight="bold" >1.5</text>
<path d="M35 407.7H38.0" stroke="#6b6b6b" stroke-width="1"/>
<text transform="translate(33.6 412.8) scale(0.985 1.06)" text-anchor="end" font-size="11.8" font-weight="bold" >1</text>
<path d="M35 450.4H38.0" stroke="#6b6b6b" stroke-width="1"/>
<text transform="translate(33.6 455.5) scale(0.985 1.06)" text-anchor="end" font-size="11.8" font-weight="bold" >0.5</text>
<path d="M35 493.1H38.0" stroke="#6b6b6b" stroke-width="1"/>
<text transform="translate(33.6 498.2) scale(0.985 1.06)" text-anchor="end" font-size="11.8" font-weight="bold" >0</text>
<text transform="translate(12.3,392.6) rotate(-90)" text-anchor="middle" font-size="11.8" font-weight="bold">VC</text>
<path d="M71.6 368.5V343.7M68.3 343.7H74.9" stroke="#333" stroke-width="1"/>
<rect x="61.5" y="368.5" width="20.2" height="124.6" fill="#ffff7d" stroke="#3a3a3a" stroke-width="0.9"/>
<text transform="translate(71.6 338.6) scale(0.985 1.06)" text-anchor="middle" font-size="11" font-weight="bold" >a</text>
<path d="M104.7 348.4V327.4M101.4 327.4H108" stroke="#333" stroke-width="1"/>
<clipPath id="cl1"><rect x="94.5" y="348.4" width="20.3" height="144.7"/></clipPath><rect x="94.5" y="348.4" width="20.3" height="144.7" fill="#ffff7d"/><path clip-path="url(#cl1)" d="M-60.5 494.1L86.2 347.4M-54.4 494.1L92.3 347.4M-48.3 494.1L98.4 347.4M-42.2 494.1L104.5 347.4M-36.1 494.1L110.6 347.4M-30 494.1L116.7 347.4M-23.9 494.1L122.8 347.4M-17.8 494.1L128.9 347.4M-11.7 494.1L135 347.4M-5.6 494.1L141.1 347.4M0.5 494.1L147.2 347.4M6.6 494.1L153.3 347.4M12.7 494.1L159.4 347.4M18.8 494.1L165.5 347.4M24.9 494.1L171.6 347.4M31 494.1L177.7 347.4M37.1 494.1L183.8 347.4M43.2 494.1L189.9 347.4M49.3 494.1L196 347.4M55.4 494.1L202.1 347.4M61.5 494.1L208.2 347.4M67.6 494.1L214.3 347.4M73.7 494.1L220.4 347.4M79.8 494.1L226.5 347.4M85.9 494.1L232.6 347.4M92 494.1L238.7 347.4M98.1 494.1L244.8 347.4M104.2 494.1L250.9 347.4M110.3 494.1L257 347.4M116.4 494.1L263.1 347.4M122.5 494.1L269.2 347.4" stroke="#1e1e1e" stroke-width="0.95" fill="none"/><rect x="94.5" y="348.4" width="20.3" height="144.7" fill="none" stroke="#3a3a3a" stroke-width="0.9"/>
<text transform="translate(104.7 322.9) scale(0.985 1.06)" text-anchor="middle" font-size="11" font-weight="bold" >a</text>
<path d="M137.8 404.6V382.2M134.4 382.2H141.1" stroke="#333" stroke-width="1"/>
<rect x="127.7" y="404.6" width="20.1" height="88.5" fill="#ff5c58" stroke="#3a3a3a" stroke-width="0.9"/>
<text transform="translate(137.8 376.5) scale(0.985 1.06)" text-anchor="middle" font-size="11" font-weight="bold" >b</text>
<path d="M170.8 356.6V342.3M167.5 342.3H174.1" stroke="#333" stroke-width="1"/>
<clipPath id="cl2"><rect x="160.7" y="356.6" width="20.2" height="136.5"/></clipPath><rect x="160.7" y="356.6" width="20.2" height="136.5" fill="#ff5c58"/><path clip-path="url(#cl2)" d="M12.7 494.1L151.2 355.6M18.8 494.1L157.3 355.6M24.9 494.1L163.4 355.6M31 494.1L169.5 355.6M37.1 494.1L175.6 355.6M43.2 494.1L181.7 355.6M49.3 494.1L187.8 355.6M55.4 494.1L193.9 355.6M61.5 494.1L200 355.6M67.6 494.1L206.1 355.6M73.7 494.1L212.2 355.6M79.8 494.1L218.3 355.6M85.9 494.1L224.4 355.6M92 494.1L230.5 355.6M98.1 494.1L236.6 355.6M104.2 494.1L242.7 355.6M110.3 494.1L248.8 355.6M116.4 494.1L254.9 355.6M122.5 494.1L261 355.6M128.6 494.1L267.1 355.6M134.7 494.1L273.2 355.6M140.8 494.1L279.3 355.6M146.9 494.1L285.4 355.6M153 494.1L291.5 355.6M159.1 494.1L297.6 355.6M165.2 494.1L303.7 355.6M171.3 494.1L309.8 355.6M177.4 494.1L315.9 355.6M183.5 494.1L322 355.6M189.6 494.1L328.1 355.6" stroke="#1e1e1e" stroke-width="0.95" fill="none"/><rect x="160.7" y="356.6" width="20.2" height="136.5" fill="none" stroke="#3a3a3a" stroke-width="0.9"/>
<text transform="translate(170.8 336.6) scale(0.985 1.06)" text-anchor="middle" font-size="11" font-weight="bold" >a</text>
<path d="M203.9 479.9V472.9M200.6 472.9H207.2" stroke="#333" stroke-width="1"/>
<rect x="193.9" y="479.9" width="20" height="13.2" fill="#7b4040" stroke="#3a3a3a" stroke-width="0.9"/>
<text transform="translate(203.9 467.8) scale(0.985 1.06)" text-anchor="middle" font-size="11" font-weight="bold" >c</text>
<path d="M237 477.1V471.3M233.7 471.3H240.3" stroke="#333" stroke-width="1"/>
<clipPath id="cl3"><rect x="227" y="477.1" width="20" height="16"/></clipPath><rect x="227" y="477.1" width="20" height="16" fill="#7b4040"/><path clip-path="url(#cl3)" d="M201.8 494.1L219.8 476.1M207.9 494.1L225.9 476.1M214 494.1L232 476.1M220.1 494.1L238.1 476.1M226.2 494.1L244.2 476.1M232.3 494.1L250.3 476.1M238.4 494.1L256.4 476.1M244.5 494.1L262.5 476.1M250.6 494.1L268.6 476.1M256.7 494.1L274.7 476.1" stroke="#1e1e1e" stroke-width="0.95" fill="none"/><rect x="227" y="477.1" width="20" height="16" fill="none" stroke="#3a3a3a" stroke-width="0.9"/>
<text transform="translate(237 466.1) scale(0.985 1.06)" text-anchor="middle" font-size="11" font-weight="bold" >c</text>
<path d="M269.9 485.3V481.3M266.6 481.3H273.2" stroke="#333" stroke-width="1"/>
<rect x="259.9" y="485.3" width="20.1" height="7.8" fill="#00b257" stroke="#3a3a3a" stroke-width="0.9"/>
<text transform="translate(269.9 476.6) scale(0.985 1.06)" text-anchor="middle" font-size="11" font-weight="bold" >c</text>
<path d="M303.1 483.2V479M299.8 479H306.4" stroke="#333" stroke-width="1"/>
<clipPath id="cl4"><rect x="293" y="483.2" width="20.1" height="9.9"/></clipPath><rect x="293" y="483.2" width="20.1" height="9.9" fill="#00b257"/><path clip-path="url(#cl4)" d="M275 494.1L286.9 482.2M281.1 494.1L293 482.2M287.2 494.1L299.1 482.2M293.3 494.1L305.2 482.2M299.4 494.1L311.3 482.2M305.5 494.1L317.4 482.2M311.6 494.1L323.5 482.2M317.7 494.1L329.6 482.2M323.8 494.1L335.7 482.2" stroke="#1e1e1e" stroke-width="0.95" fill="none"/><rect x="293" y="483.2" width="20.1" height="9.9" fill="none" stroke="#3a3a3a" stroke-width="0.9"/>
<text transform="translate(303.1 474.3) scale(0.985 1.06)" text-anchor="middle" font-size="11" font-weight="bold" >c</text>
<text transform="translate(88.4 509.2) scale(0.985 1.06)" text-anchor="middle" font-size="11.8" font-weight="bold" >AS</text>
<text transform="translate(154.3 509.2) scale(0.985 1.06)" text-anchor="middle" font-size="11.8" font-weight="bold" >QUI</text>
<text transform="translate(220.4 509.2) scale(0.985 1.06)" text-anchor="middle" font-size="11.8" font-weight="bold" >CAF</text>
<text transform="translate(286.6 509.2) scale(0.985 1.06)" text-anchor="middle" font-size="11.8" font-weight="bold" >THE</text>
<rect x="294.4" y="280.8" width="14.4" height="14.8" fill="#fff" stroke="#555" stroke-width="1"/>
<rect x="294.4" y="303" width="14.4" height="14.8" fill="url(#hatchL)" stroke="#555" stroke-width="1"/>
<text transform="translate(314.2 292.7) scale(0.985 1.06)" text-anchor="start" font-size="10.6" font-weight="bold" >T1</text>
<text transform="translate(314.2 314.7) scale(0.985 1.06)" text-anchor="start" font-size="10.6" font-weight="bold" >T2</text>
<text transform="translate(342.8 271) scale(0.985 1.06)" text-anchor="start" font-size="19.5" font-weight="bold" >d</text>
<path d="M379.9 278.8V493.0" fill="none" stroke="#6b6b6b" stroke-width="1.2"/>
<path d="M379.29999999999995 493.0H678.0" fill="none" stroke="#7a7a7a" stroke-width="1.35"/>
<path d="M376.7 279.7H379.9" stroke="#6b6b6b" stroke-width="1"/>
<text transform="translate(375.2 284.8) scale(0.985 1.06)" text-anchor="end" font-size="11.8" font-weight="bold" >25</text>
<path d="M376.7 322.4H379.9" stroke="#6b6b6b" stroke-width="1"/>
<text transform="translate(375.2 327.5) scale(0.985 1.06)" text-anchor="end" font-size="11.8" font-weight="bold" >20</text>
<path d="M376.7 365H379.9" stroke="#6b6b6b" stroke-width="1"/>
<text transform="translate(375.2 370.1) scale(0.985 1.06)" text-anchor="end" font-size="11.8" font-weight="bold" >15</text>
<path d="M376.7 407.7H379.9" stroke="#6b6b6b" stroke-width="1"/>
<text transform="translate(375.2 412.8) scale(0.985 1.06)" text-anchor="end" font-size="11.8" font-weight="bold" >10</text>
<path d="M376.7 450.3H379.9" stroke="#6b6b6b" stroke-width="1"/>
<text transform="translate(375.2 455.4) scale(0.985 1.06)" text-anchor="end" font-size="11.8" font-weight="bold" >5</text>
<path d="M376.7 493H379.9" stroke="#6b6b6b" stroke-width="1"/>
<text transform="translate(375.2 498.1) scale(0.985 1.06)" text-anchor="end" font-size="11.8" font-weight="bold" >0</text>
<text transform="translate(351.7,392.3) rotate(-90)" text-anchor="middle" font-size="11.8" font-weight="bold">Average SMR (&#181;l.h<tspan font-size="6" dy="-5.5">-1</tspan><tspan dy="5.5">)</tspan></text>
<path d="M426.2 462.9V449.9M420 449.9H432.4" stroke="#333" stroke-width="1"/>
<rect x="415.4" y="462.9" width="21.6" height="30.1" fill="#ffff7d" stroke="#3a3a3a" stroke-width="0.9"/>
<text transform="translate(426.2 444.7) scale(0.985 1.06)" text-anchor="middle" font-size="11" font-weight="bold" >a</text>
<path d="M453.1 469.5V457.3M446.9 457.3H459.2" stroke="#333" stroke-width="1"/>
<clipPath id="cl5"><rect x="442.3" y="469.5" width="21.5" height="23.5"/></clipPath><rect x="442.3" y="469.5" width="21.5" height="23.5" fill="#ffff7d"/><path clip-path="url(#cl5)" d="M408.6 494L434.1 468.5M414.6 494L440.1 468.5M420.6 494L446.1 468.5M426.6 494L452.1 468.5M432.6 494L458.1 468.5M438.6 494L464.1 468.5M444.6 494L470.1 468.5M450.6 494L476.1 468.5M456.6 494L482.1 468.5M462.6 494L488.1 468.5M468.6 494L494.1 468.5M474.6 494L500.1 468.5" stroke="#1e1e1e" stroke-width="0.95" fill="none"/><rect x="442.3" y="469.5" width="21.5" height="23.5" fill="none" stroke="#3a3a3a" stroke-width="0.9"/>
<text transform="translate(453.1 452.4) scale(0.985 1.06)" text-anchor="middle" font-size="11" font-weight="bold" >b</text>
<path d="M486 458.9V448.1M479.8 448.1H492.2" stroke="#333" stroke-width="1"/>
<rect x="475.3" y="458.9" width="21.3" height="34.1" fill="#ff5c58" stroke="#3a3a3a" stroke-width="0.9"/>
<text transform="translate(486 442.6) scale(0.985 1.06)" text-anchor="middle" font-size="11" font-weight="bold" >a</text>
<path d="M512.5 470.5V459.6M506.3 459.6H518.8" stroke="#333" stroke-width="1"/>
<clipPath id="cl6"><rect x="501.8" y="470.5" width="21.5" height="22.5"/></clipPath><rect x="501.8" y="470.5" width="21.5" height="22.5" fill="#ff5c58"/><path clip-path="url(#cl6)" d="M468.6 494L493.1 469.5M474.6 494L499.1 469.5M480.6 494L505.1 469.5M486.6 494L511.1 469.5M492.6 494L517.1 469.5M498.6 494L523.1 469.5M504.6 494L529.1 469.5M510.6 494L535.1 469.5M516.6 494L541.1 469.5M522.6 494L547.1 469.5M528.6 494L553.1 469.5" stroke="#1e1e1e" stroke-width="0.95" fill="none"/><rect x="501.8" y="470.5" width="21.5" height="22.5" fill="none" stroke="#3a3a3a" stroke-width="0.9"/>
<text transform="translate(512.5 454.1) scale(0.985 1.06)" text-anchor="middle" font-size="11" font-weight="bold" >b</text>
<path d="M545.3 324.2V315.9M539.1 315.9H551.5" stroke="#333" stroke-width="1"/>
<rect x="534.7" y="324.2" width="21.2" height="168.8" fill="#7b4040" stroke="#3a3a3a" stroke-width="0.9"/>
<text transform="translate(545.3 310.6) scale(0.985 1.06)" text-anchor="middle" font-size="11" font-weight="bold" >a</text>
<path d="M572.1 353.8V345M565.9 345H578.3" stroke="#333" stroke-width="1"/>
<clipPath id="cl7"><rect x="561.5" y="353.8" width="21.2" height="139.2"/></clipPath><rect x="561.5" y="353.8" width="21.2" height="139.2" fill="#7b4040"/><path clip-path="url(#cl7)" d="M414.6 494L555.8 352.8M420.6 494L561.8 352.8M426.6 494L567.8 352.8M432.6 494L573.8 352.8M438.6 494L579.8 352.8M444.6 494L585.8 352.8M450.6 494L591.8 352.8M456.6 494L597.8 352.8M462.6 494L603.8 352.8M468.6 494L609.8 352.8M474.6 494L615.8 352.8M480.6 494L621.8 352.8M486.6 494L627.8 352.8M492.6 494L633.8 352.8M498.6 494L639.8 352.8M504.6 494L645.8 352.8M510.6 494L651.8 352.8M516.6 494L657.8 352.8M522.6 494L663.8 352.8M528.6 494L669.8 352.8M534.6 494L675.8 352.8M540.6 494L681.8 352.8M546.6 494L687.8 352.8M552.6 494L693.8 352.8M558.6 494L699.8 352.8M564.6 494L705.8 352.8M570.6 494L711.8 352.8M576.6 494L717.8 352.8M582.6 494L723.8 352.8M588.6 494L729.8 352.8" stroke="#1e1e1e" stroke-width="0.95" fill="none"/><rect x="561.5" y="353.8" width="21.2" height="139.2" fill="none" stroke="#3a3a3a" stroke-width="0.9"/>
<text transform="translate(572.1 339.7) scale(0.985 1.06)" text-anchor="middle" font-size="11" font-weight="bold" >b</text>
<path d="M604.6 329.9V324.7M598.4 324.7H610.8" stroke="#333" stroke-width="1"/>
<rect x="593.8" y="329.9" width="21.6" height="163.1" fill="#00b257" stroke="#3a3a3a" stroke-width="0.9"/>
<text transform="translate(604.6 319.1) scale(0.985 1.06)" text-anchor="middle" font-size="11" font-weight="bold" >a</text>
<path d="M631.4 370V365.5M625.2 365.5H637.6" stroke="#333" stroke-width="1"/>
<clipPath id="cl8"><rect x="620.7" y="370" width="21.4" height="123"/></clipPath><rect x="620.7" y="370" width="21.4" height="123" fill="#00b257"/><path clip-path="url(#cl8)" d="M486.6 494L611.6 369M492.6 494L617.6 369M498.6 494L623.6 369M504.6 494L629.6 369M510.6 494L635.6 369M516.6 494L641.6 369M522.6 494L647.6 369M528.6 494L653.6 369M534.6 494L659.6 369M540.6 494L665.6 369M546.6 494L671.6 369M552.6 494L677.6 369M558.6 494L683.6 369M564.6 494L689.6 369M570.6 494L695.6 369M576.6 494L701.6 369M582.6 494L707.6 369M588.6 494L713.6 369M594.6 494L719.6 369M600.6 494L725.6 369M606.6 494L731.6 369M612.6 494L737.6 369M618.6 494L743.6 369M624.6 494L749.6 369M630.6 494L755.6 369M636.6 494L761.6 369M642.6 494L767.6 369M648.6 494L773.6 369" stroke="#1e1e1e" stroke-width="0.95" fill="none"/><rect x="620.7" y="370" width="21.4" height="123" fill="none" stroke="#3a3a3a" stroke-width="0.9"/>
<text transform="translate(631.4 360.7) scale(0.985 1.06)" text-anchor="middle" font-size="11" font-weight="bold" >b</text>
<text transform="translate(439.7 509.2) scale(0.985 1.06)" text-anchor="middle" font-size="11.8" font-weight="bold" >AS</text>
<text transform="translate(499.4 509.2) scale(0.985 1.06)" text-anchor="middle" font-size="11.8" font-weight="bold" >QUI</text>
<text transform="translate(558.7 509.2) scale(0.985 1.06)" text-anchor="middle" font-size="11.8" font-weight="bold" >CAF</text>
<text transform="translate(618.2 509.2) scale(0.985 1.06)" text-anchor="middle" font-size="11.8" font-weight="bold" >THE</text>
<path d="M418.9 436.6 Q418.9 429 427.4 429 H462.6 Q469.6 429 469.6 416.3 Q469.6 429 476.6 429 H511.8 Q520.3 429 520.3 436.6" fill="none" stroke="#111" stroke-width="1.75"/>
<path d="M537.7 302.7 Q537.7 295 546.2 295 H581 Q588 295 588 287.4 Q588 295 595 295 H630.3 Q638.8 295 638.8 302.7" fill="none" stroke="#111" stroke-width="1.75"/>
<text transform="translate(469.8 414.2) scale(0.985 1.06)" text-anchor="middle" font-size="11.7" font-weight="bold" >A</text>
<text transform="translate(588 281) scale(0.985 1.06)" text-anchor="middle" font-size="11.7" font-weight="bold" >B</text>
<rect x="651.4" y="280.8" width="14.6" height="14.8" fill="#fff" stroke="#555" stroke-width="1"/>
<rect x="651.4" y="303" width="14.6" height="14.8" fill="url(#hatchL)" stroke="#555" stroke-width="1"/>
<text transform="translate(672.2 292.8) scale(0.985 1.06)" text-anchor="start" font-size="10.6" font-weight="bold" >T1</text>
<text transform="translate(672.2 314.8) scale(0.985 1.06)" text-anchor="start" font-size="10.6" font-weight="bold" >T2</text>
</svg></body></html>
